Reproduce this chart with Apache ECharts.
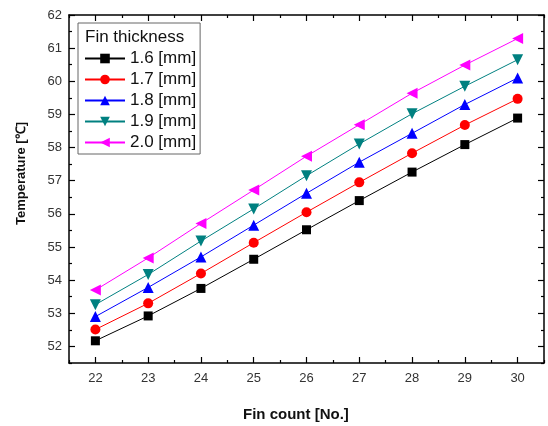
<!DOCTYPE html>
<html><head><meta charset="utf-8">
<script src="https://cdn.jsdelivr.net/npm/echarts@6/dist/echarts.min.js"></script>
<style>html,body{margin:0;padding:0;background:#fff}#c{width:548px;height:426px}</style>
</head><body><div id="c"></div>
<script>
const finCount = [22, 23, 24, 25, 26, 27, 28, 29, 30];
const t16 = [52.17, 52.92, 53.75, 54.63, 55.52, 56.40, 57.26, 58.09, 58.89];
const t17 = [52.51, 53.30, 54.20, 55.13, 56.05, 56.95, 57.83, 58.68, 59.47];
const t18 = [52.90, 53.78, 54.70, 55.66, 56.62, 57.56, 58.43, 59.30, 60.10];
const t19 = [53.26, 54.17, 55.18, 56.15, 57.15, 58.11, 59.02, 59.85, 60.65];
const t20 = [53.70, 54.67, 55.71, 56.72, 57.74, 58.69, 59.64, 60.49, 61.29];
const yTicks = [52, 53, 54, 55, 56, 57, 58, 59, 60, 61, 62];
const yMinor = [51.5, 52.5, 53.5, 54.5, 55.5, 56.5, 57.5, 58.5, 59.5, 60.5, 61.5];
const xTicks = [22, 23, 24, 25, 26, 27, 28, 29, 30];
const xMinor = [21.5, 22.5, 23.5, 24.5, 25.5, 26.5, 27.5, 28.5, 29.5, 30.5];
const names = ['1.6 [mm]', '1.7 [mm]', '1.8 [mm]', '1.9 [mm]', '2.0 [mm]'];
const colors = ['#000000', '#ff0000', '#0000ff', '#008080', '#ff00ff'];
const symbols = ['rect', 'circle', 'triangle', 'triangle', 'triangle'];
const rots = [0, 0, 0, 180, 90];
const sizes = [9, 10, 11, 11, 11];
const values = [t16, t17, t18, t19, t20];

const axLine = {show: true, lineStyle: {color: '#000', width: 1.5}};
function yAx(pos, ticks, len, labels, line) {
  return {type: 'value', min: 51.5, max: 62, position: pos,
    axisLine: line ? axLine : {show: false},
    axisTick: {show: true, inside: true, length: len, customValues: ticks, lineStyle: {color: '#000', width: 1.2}},
    axisLabel: labels ? {show: true, customValues: ticks, fontSize: 13, color: '#333', fontFamily: 'Liberation Sans, Arial', margin: 7} : {show: false},
    splitLine: {show: false}};
}
function xAx(pos, ticks, len, labels, line) {
  return {type: 'value', min: 21.5, max: 30.5, position: pos,
    axisLine: line ? axLine : {show: false},
    axisTick: {show: true, inside: true, length: len, customValues: ticks, lineStyle: {color: '#000', width: 1.2}},
    axisLabel: labels ? {show: true, customValues: ticks, fontSize: 13, color: '#333', fontFamily: 'Liberation Sans, Arial', margin: 9} : {show: false},
    splitLine: {show: false}};
}

const series = names.map((n, i) => ({
  name: n, type: 'line', xAxisIndex: 0, yAxisIndex: 0,
  data: finCount.map((x, j) => [x, values[i][j]]),
  symbol: symbols[i], symbolSize: sizes[i], symbolRotate: rots[i],
  lineStyle: {color: colors[i], width: 1},
  itemStyle: {color: colors[i]},
  z: 10 - i
}));

const chart = echarts.init(document.getElementById('c'));
chart.setOption({
  animation: false,
  grid: {left: 69, top: 15, right: 4, bottom: 63},
  xAxis: [xAx('bottom', xTicks, 6, true, true), xAx('bottom', xMinor, 3, false, false),
          xAx('top', xTicks, 6, false, true), xAx('top', xMinor, 3, false, false)],
  yAxis: [yAx('left', yTicks, 6, true, true), yAx('left', yMinor, 3, false, false),
          yAx('right', yTicks, 6, false, true), yAx('right', yMinor, 3, false, false)],
  legend: {
    orient: 'vertical', left: 78, top: 23, data: names,
    itemWidth: 40, itemHeight: 12, itemGap: 4,
    padding: [27, 4, 3, 6],
    borderColor: '#666', borderWidth: 1,
    textStyle: {fontSize: 17, color: '#111', fontFamily: 'Liberation Sans, Arial'}
  },
  graphic: [
    {type: 'text', left: 85, top: 29, style: {text: 'Fin thickness', fontSize: 17, fill: '#111', fontFamily: 'Liberation Sans, Arial'}},
    {type: 'text', left: 243, top: 407, style: {text: 'Fin count [No.]', fontSize: 15, fontWeight: 'bold', fill: '#111', fontFamily: 'Liberation Sans, Arial'}},
    {type: 'text', left: 15, top: 122, rotation: Math.PI / 2, style: {text: 'Temperature [℃]', fontSize: 13, fontWeight: 'bold', fill: '#111', fontFamily: 'Liberation Sans, Arial'}}
  ],
  series: series
});
</script></body></html>
